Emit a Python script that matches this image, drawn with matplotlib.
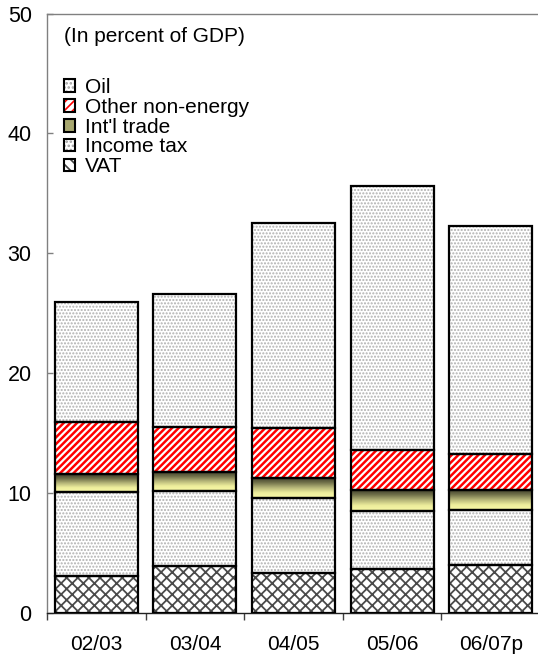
import numpy as np
import matplotlib
matplotlib.use("Agg")
import matplotlib.pyplot as plt
from matplotlib.patches import Patch
from matplotlib.legend_handler import HandlerTuple
from matplotlib.colors import LinearSegmentedColormap

# Revenue components (in percent of GDP), stacked bottom to top
periods = ["02/03", "03/04", "04/05", "05/06", "06/07p"]
vat = [3.1, 3.9, 3.3, 3.7, 4.0]
income_tax = [7.0, 6.3, 6.3, 4.8, 4.6]
intl_trade = [1.5, 1.6, 1.7, 1.8, 1.7]
other_non_energy = [4.3, 3.7, 4.1, 3.3, 3.0]
oil = [10.0, 11.1, 17.1, 22.0, 19.0]

yticks = [0, 10, 20, 30, 40, 50]

plt.rcParams["font.family"] = ["Liberation Sans", "DejaVu Sans"]
plt.rcParams["hatch.linewidth"] = 1.2

W, H = 538, 659
fig = plt.figure(figsize=(W / 100, H / 100), dpi=100)
ax = fig.add_axes([47 / W, 46 / H, 493 / W, 599.5 / H])

x = np.arange(len(periods))
width = 0.84

trade_cmap = LinearSegmentedColormap.from_list(
    "trade", ["#3a3a28", "#6e6e48", "#b4b478", "#eeee9c", "#f8f8a8"])

styles = [
    (vat, dict(fc="white", hc="#4a4a4a", hatch="xxx", hlw=1.3)),
    (income_tax, dict(fc="white", hc="#b0b0b0", hatch=".....", hlw=1.0)),
    (intl_trade, dict(fc="#e8e890", hc=None, hatch=None, hlw=None)),
    (other_non_energy, dict(fc="white", hc="#ff0000", hatch="/////", hlw=1.8)),
    (oil, dict(fc="white", hc="#b0b0b0", hatch=".....", hlw=1.0)),
]


def set_hatch_lw(patches, lw):
    for p in patches:
        if hasattr(p, "set_hatch_linewidth"):
            p.set_hatch_linewidth(lw)


bottom = np.zeros(len(periods))
trade_patches = None
for vals, st in styles:
    vals = np.asarray(vals, dtype=float)
    if st["hatch"]:
        with plt.rc_context({"hatch.linewidth": st["hlw"]}):
            bars = ax.bar(x, vals, width, bottom=bottom, color=st["fc"],
                          edgecolor=st["hc"], hatch=st["hatch"], linewidth=0,
                          zorder=2)
        set_hatch_lw(bars, st["hlw"])
    else:
        trade_patches = ax.bar(x, vals, width, bottom=bottom, color=st["fc"],
                               linewidth=0, zorder=2)
    ax.bar(x, vals, width, bottom=bottom, fill=False, edgecolor="black",
           linewidth=1.6, zorder=4)
    bottom += vals

# Vertical shading for the trade segment: dark at the top, pale yellow below
grad = np.linspace(0, 1, 256).reshape(-1, 1)
for p in trade_patches:
    x0, y0, w, h = p.get_x(), p.get_y(), p.get_width(), p.get_height()
    ax.imshow(grad, extent=(x0, x0 + w, y0, y0 + h), origin="upper",
              cmap=trade_cmap, aspect="auto", zorder=3, interpolation="bilinear")

ax.set_xlim(-0.5, len(periods) - 0.5)
ax.set_ylim(0, 50)

ax.set_yticks(yticks)
ax.set_yticklabels([str(v) for v in yticks])
ax.tick_params(axis="y", direction="in", length=4, width=1, color="#808080",
               labelsize=15.5, pad=11)

ax.set_xticks(x)
ax.set_xticklabels(periods)
ax.set_xticks(np.arange(len(periods) + 1) - 0.5, minor=True)
ax.tick_params(axis="x", which="major", length=0, labelsize=15, pad=16)
ax.tick_params(axis="x", which="minor", direction="out", length=5, width=1,
               color="#404040")

ax.spines["right"].set_visible(False)
ax.spines["left"].set_color("#808080")
ax.spines["top"].set_color("#808080")
ax.spines["bottom"].set_color("#202020")
for s in ax.spines.values():
    s.set_linewidth(1)

ax.text(64 / W, (H - 36) / H, "(In percent of GDP)", transform=fig.transFigure,
        fontsize=15, va="center", ha="left")


def handle(fc, hc, hatch, hlw=1.0):
    with plt.rc_context({"hatch.linewidth": hlw}):
        fill = Patch(facecolor=fc, edgecolor=hc if hc else fc, hatch=hatch,
                     linewidth=0)
    if hasattr(fill, "set_hatch_linewidth"):
        fill.set_hatch_linewidth(hlw)
    border = Patch(facecolor="none", edgecolor="black", linewidth=1.5)
    return (fill, border)


handles = [
    handle("white", "#a0a0a0", "...."),
    handle("white", "#ff0000", "////", 2.0),
    handle("#a8a870", None, None),
    handle("white", "#a0a0a0", "...."),
    handle("white", "#404040", "\\\\\\", 1.5),
]
labels = ["Oil", "Other non-energy", "Int'l trade", "Income tax", "VAT"]
fig.legend(handles, labels, handler_map={tuple: HandlerTuple(ndivide=1, pad=0)},
           loc="upper left", bbox_to_anchor=(64 / W, (H - 78) / H),
           frameon=False, fontsize=15, handlelength=0.55, handleheight=0.55,
           handletextpad=0.45, labelspacing=0.04, borderpad=0, borderaxespad=0)

fig.savefig("out.png", dpi=100)
